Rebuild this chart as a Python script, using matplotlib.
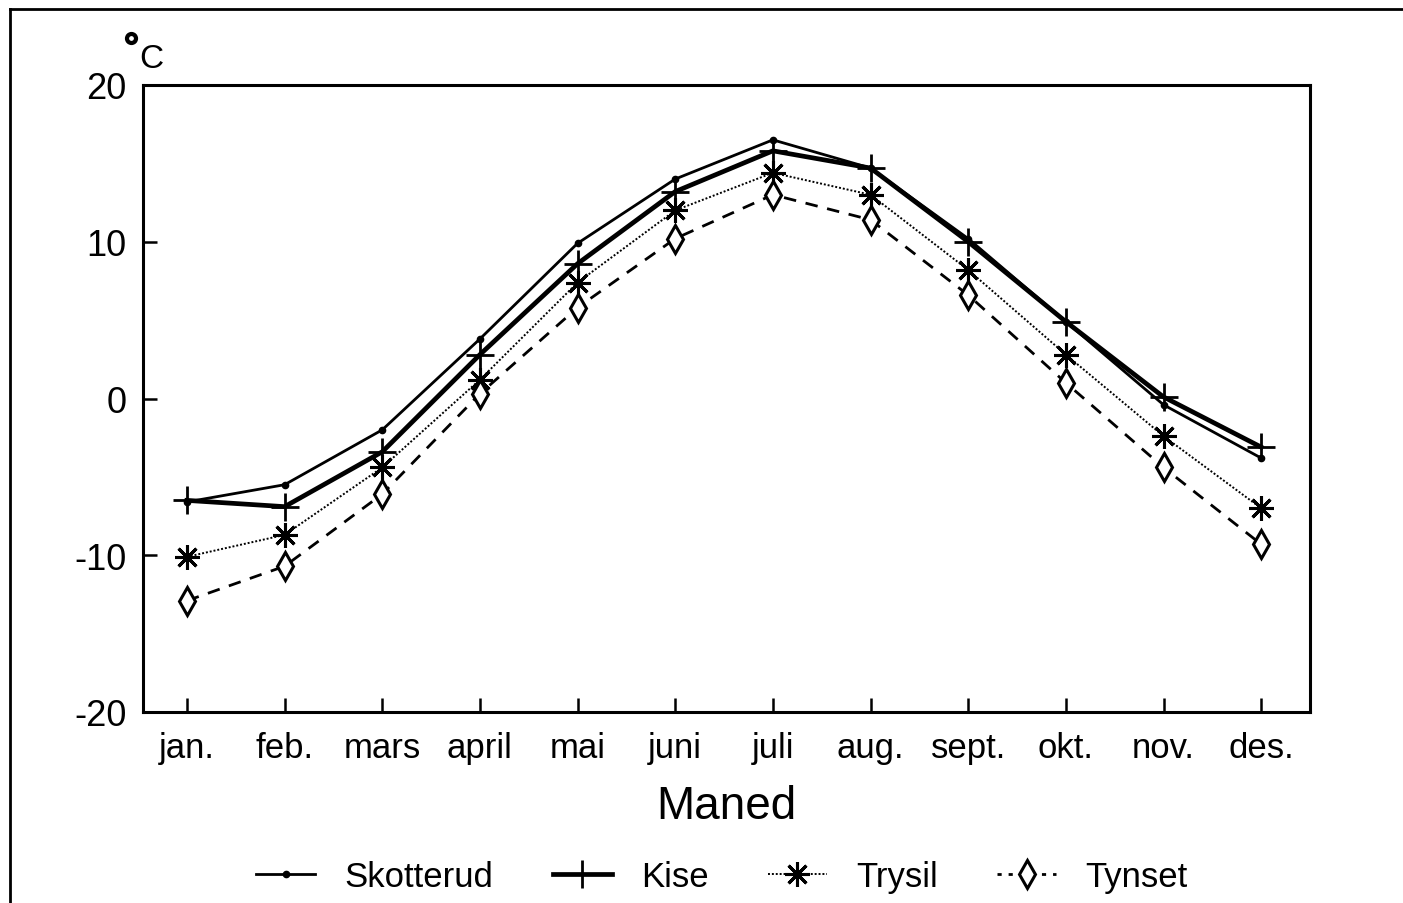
import matplotlib
matplotlib.use('Agg')

import matplotlib.pyplot as plt
from matplotlib.lines import Line2D

# ---- data (monthly mean temperature, deg C) ----
months = ['jan.', 'feb.', 'mars', 'april', 'mai', 'juni',
          'juli', 'aug.', 'sept.', 'okt.', 'nov.', 'des.']
skotterud = [-6.6, -5.5, -2.0, 3.8, 9.9, 14.0, 16.5, 14.7, 10.2, 4.9, -0.4, -3.8]
kise      = [-6.5, -6.9, -3.4, 2.8, 8.6, 13.2, 15.8, 14.7, 10.0, 4.9, 0.1, -3.1]
trysil    = [-10.1, -8.7, -4.4, 1.2, 7.4, 12.0, 14.4, 13.0, 8.2, 2.8, -2.4, -7.0]
tynset    = [-12.9, -10.7, -6.1, 0.3, 5.8, 10.2, 13.0, 11.4, 6.6, 1.0, -4.4, -9.3]
y_ticks = [-20, -10, 0, 10, 20]

plt.rcParams['font.family'] = ['Liberation Sans', 'DejaVu Sans']

W, H = 1403, 904
fig = plt.figure(figsize=(W / 100, H / 100), dpi=100)
ax = fig.add_axes([143 / W, 1 - 713 / H, (1310 - 143) / W, (713 - 86) / H])

x = list(range(len(months)))
asterisk = (8, 2, 0)

ax.plot(x, skotterud, '-', color='black', lw=2.0, marker='o', ms=4.5,
        label='Skotterud', zorder=4)
ax.plot(x, kise, '-', color='black', lw=3.4, marker='+', ms=20, mew=2.0,
        label='Kise', zorder=5)
ax.plot(x, trysil, color='black', lw=1.4, ls=(0, (1, 1.0)), marker=asterisk,
        ms=18, mew=2.2, label='Trysil', zorder=3)
ax.plot(x, tynset, color='black', lw=2.0, ls=(0, (4.5, 3.5)), marker='d', ms=14,
        mew=2.2, mfc='white', mec='black', label='Tynset', zorder=3)

ax.set_xlim(-0.45, 11.5)
ax.set_ylim(-20, 20)
ax.set_xticks(x)
ax.set_xticklabels(months, fontsize=25)
ax.set_yticks(y_ticks)
ax.set_yticklabels([str(t) for t in y_ticks], fontsize=26)
ax.tick_params(axis='both', direction='in', length=10, width=1.8, color='black')
ax.tick_params(axis='x', pad=14)
ax.tick_params(axis='y', pad=12)
for s in ax.spines.values():
    s.set_linewidth(2.2)

ax.set_xlabel('Maned', fontsize=33, labelpad=14)

# degree label
fig.add_artist(Line2D([131 / W], [1 - 39 / H], marker='o', ms=6.5, mew=3.0,
                      mfc='white', mec='black', transform=fig.transFigure))
fig.text(151 / W, 1 - 60 / H, 'C', fontsize=24, ha='center', va='center')

# legend
handles = [
    Line2D([], [], color='black', lw=2.0, marker='o', ms=4.5),
    Line2D([], [], color='black', lw=3.4, marker='+', ms=20, mew=2.0),
    Line2D([], [], color='black', lw=1.4, ls=(0, (1, 1.0)), marker=asterisk, ms=18, mew=2.2),
    Line2D([], [], color='black', lw=2.0, ls=(0, (1.5, 2.5)), marker='d', ms=14, mew=2.2,
           mfc='white', mec='black'),
]
fig.legend(handles, ['Skotterud', 'Kise', 'Trysil', 'Tynset'], ncol=4,
           loc='center', bbox_to_anchor=(722 / W, 1 - 878 / H), frameon=False,
           fontsize=25, handlelength=1.7, handletextpad=0.85, columnspacing=1.7)

# outer frame of the scanned figure
fig.add_artist(Line2D([10 / W, 10 / W], [0, 1 - 10 / H], color='black', lw=2.0,
                      transform=fig.transFigure))
fig.add_artist(Line2D([10 / W, 1], [1 - 10 / H, 1 - 10 / H], color='black', lw=2.0,
                      transform=fig.transFigure))

fig.savefig('out.png', dpi=100, facecolor='white')
